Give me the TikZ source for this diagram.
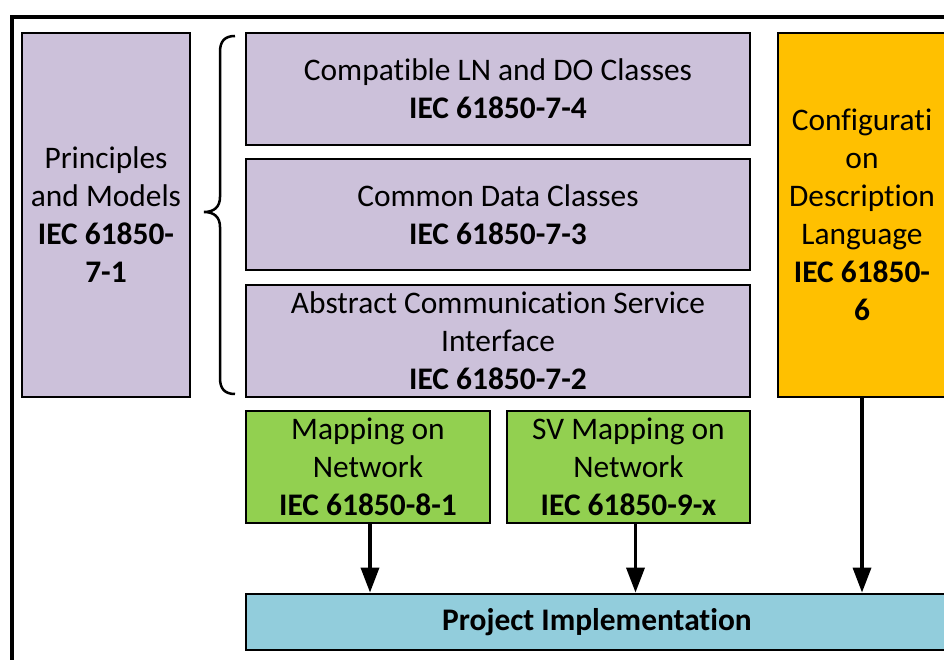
\documentclass[tikz,border=0pt]{standalone}
\usepackage{fontspec}
\setmainfont{Carlito}[Ligatures=NoCommon]
\usetikzlibrary{arrows.meta}
\definecolor{lav}{HTML}{CCC1DA}
\definecolor{grn}{HTML}{92D050}
\definecolor{org}{HTML}{FFC000}
\definecolor{aqua}{HTML}{92CDDC}
\tikzset{
  box/.style={draw=black, line width=2.8pt, rectangle, inner sep=0pt, align=center,
    font=\fontsize{31.4}{38}\selectfont},
  arr/.style={line width=3.5pt, -{Triangle[length=25pt,width=18pt]}},
}
\begin{document}
\begin{tikzpicture}[x=1pt,y=-1pt]
\useasboundingbox (0,0) rectangle (944,660);
\clip (0,0) rectangle (944,660);
\fill[white] (0,0) rectangle (944,660);
\draw[line width=3.5pt] (12,17) rectangle (990,700);
\node[box, fill=lav, minimum width=168pt, minimum height=364pt] (p71) at (106,215)
  {Principles\\and Models\\\textbf{IEC 61850-}\\\textbf{7-1}};
\node[box, fill=lav, minimum width=504pt, minimum height=112pt] (b74) at (498,89)
  {Compatible LN and DO Classes\\\textbf{IEC 61850-7-4}};
\node[box, fill=lav, minimum width=504pt, minimum height=111pt] (b73) at (498,214.5)
  {Common Data Classes\\\textbf{IEC 61850-7-3}};
\node[box, fill=lav, minimum width=504pt, minimum height=112pt] (b72) at (498,341)
  {Abstract Communication Service\\Interface\\\textbf{IEC 61850-7-2}};
\node[box, fill=org, minimum width=168pt, minimum height=364pt] (scl) at (862,215)
  {Configurati\\on\\Description\\Language\\\textbf{IEC 61850-}\\\textbf{6}};
\node[box, fill=grn, minimum width=244pt, minimum height=112pt] (g81) at (368,467)
  {Mapping on\\Network\\\textbf{IEC 61850-8-1}};
\node[box, fill=grn, minimum width=243pt, minimum height=112pt] (g9) at (628.5,467)
  {SV Mapping on\\Network\\\textbf{IEC 61850-9-x}};
\node[box, fill=aqua, minimum width=702pt, minimum height=56pt] (proj) at (597,622)
  {\textbf{Project Implementation}};
% brace
\coordinate (bt) at (235,36);
\coordinate (bb) at (235,394);
\coordinate (tip) at (204,212);
\draw[line width=2.5pt] (bt) .. controls (224,36) and (220,42) .. (220,52)
  -- (220,197) .. controls (220,207) and (214,212) .. (tip)
  .. controls (214,212) and (220,217) .. (220,227)
  -- (220,378) .. controls (220,388) and (224,394) .. (bb);
% arrows
\draw[arr] ([xshift=2pt]g81.south) -- ([xshift=2pt]g81.south |- proj.north);
\draw[arr] ([xshift=7pt]g9.south) -- ([xshift=7pt]g9.south |- proj.north);
\draw[arr] (scl.south) -- (scl.south |- proj.north);
\end{tikzpicture}
\end{document}
